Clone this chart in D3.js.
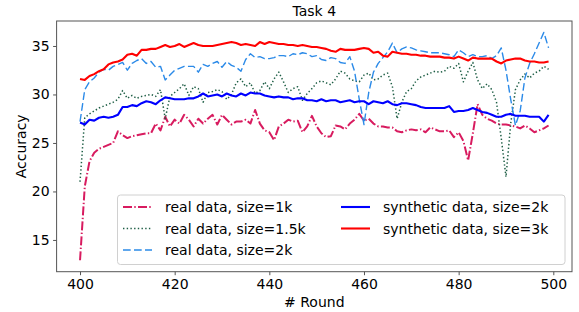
<!DOCTYPE html>
<html><head><meta charset="utf-8">
<script src="https://cdn.jsdelivr.net/npm/d3@7"></script>
<style>body{margin:0;background:#fff}svg text{font-family:"DejaVu Sans",sans-serif}</style>
</head><body><svg id="c" width="579" height="312"></svg>
<script>
const rounds = d3.range(400, 500);
const xTicks = [400, 420, 440, 460, 480, 500];
const yTicks = [15, 20, 25, 30, 35];
const real1k = [12.9,20.5,23.1,24.0,24.4,24.6,24.8,25.0,26.2,25.8,
25.5,25.7,25.8,25.9,26.0,26.0,27.0,26.3,27.7,26.7,
27.4,27.0,27.9,27.4,26.7,27.5,27.0,27.5,27.9,26.9,
27.9,27.4,26.9,27.2,27.2,27.4,27.0,28.4,27.0,26.3,
26.1,25.3,26.7,27.0,27.4,27.2,27.3,26.1,26.7,27.8,
26.7,26.0,25.6,25.7,26.8,26.7,26.4,27.0,27.4,28.0,
27.3,27.5,27.0,26.7,26.7,26.6,26.6,26.2,26.1,26.3,
26.4,26.3,26.4,26.1,26.6,26.4,26.2,26.2,26.3,25.6,
26.1,25.2,23.2,26.0,29.0,27.9,27.5,27.3,27.0,26.9,
26.9,26.8,26.7,26.5,26.8,26.5,26.1,26.3,26.5,26.8];
const real15k = [21.0,27.6,28.0,28.3,28.6,28.8,29.0,29.2,29.5,30.4,
29.6,29.9,29.6,29.8,29.9,30.0,29.8,30.5,27.5,29.8,
30.2,30.6,31.1,29.9,30.8,30.6,29.2,30.2,30.3,30.5,
30.3,29.5,30.0,31.2,31.6,30.8,31.2,30.1,30.4,31.3,
30.6,31.6,32.3,31.3,30.2,30.6,30.8,29.4,30.1,30.6,
31.2,31.4,31.2,31.0,31.6,32.4,32.2,31.6,31.4,31.3,
32.0,32.2,31.5,31.6,32.0,32.2,30.8,27.5,29.2,30.3,
30.6,31.4,31.8,32.0,32.2,32.4,32.3,32.4,32.9,32.7,
33.2,31.3,32.4,33.3,31.5,30.6,31.1,30.5,29.2,25.5,
21.5,27.0,30.5,31.5,32.1,31.7,32.2,32.4,32.9,32.6];
const real2k = [27.2,30.5,31.3,31.7,32.3,32.6,32.5,32.9,33.1,33.3,
32.5,33.2,33.5,33.7,33.2,33.4,32.8,32.9,31.5,32.0,
32.5,32.7,32.9,32.9,32.9,32.3,33.1,32.9,33.2,33.4,
32.8,33.4,33.0,32.8,32.4,33.6,34.2,33.8,33.9,33.7,
33.7,33.8,34.0,34.0,33.9,34.2,34.1,34.3,34.2,33.9,
34.0,33.6,33.5,33.8,33.7,33.3,33.2,33.9,32.4,29.5,
26.9,30.2,32.3,33.2,33.8,34.4,35.3,34.3,34.7,34.9,
34.8,34.6,34.5,34.4,34.3,34.3,34.3,34.2,34.1,33.9,
34.6,34.3,33.9,34.1,33.9,33.9,34.0,33.7,34.0,34.8,
32.5,29.5,26.8,28.3,31.7,33.2,34.2,35.3,36.4,34.8];
const syn2k = [27.1,26.9,27.4,27.3,27.6,27.7,27.6,27.7,27.9,28.7,
28.7,28.9,28.8,29.1,29.3,29.2,29.0,29.4,29.7,29.6,
29.5,29.5,29.5,29.6,29.6,29.8,30.1,29.8,29.9,30.0,
29.8,30.1,29.9,29.8,30.1,29.9,30.2,30.1,30.1,29.9,
29.8,29.7,29.8,29.7,29.7,29.5,29.6,29.6,29.4,29.4,
29.3,29.5,29.3,29.4,29.4,29.2,29.3,29.4,29.2,29.3,
29.3,29.0,29.3,29.2,29.1,29.3,29.0,28.9,29.1,29.1,
29.0,28.9,28.7,28.6,28.6,28.6,28.6,28.6,28.8,28.2,
28.3,28.3,28.4,28.6,28.4,28.2,28.1,27.9,27.7,27.7,
27.9,28.0,27.8,27.8,27.8,27.7,27.7,27.7,27.2,27.9];
const syn3k = [31.6,31.5,31.9,32.1,32.4,32.6,33.1,33.3,33.4,33.6,
34.1,34.2,34.0,34.6,34.6,34.7,34.7,34.9,35.1,34.9,
35.0,35.2,34.9,35.1,35.3,35.1,35.0,35.0,35.0,35.1,
35.2,35.3,35.4,35.3,35.1,35.2,35.1,35.0,35.4,35.2,
35.4,35.3,35.2,35.2,35.1,35.1,35.0,35.1,35.0,34.9,
34.9,34.8,34.7,34.5,34.4,34.7,34.6,34.6,34.6,34.7,
34.8,34.7,34.3,34.4,34.0,33.9,34.4,34.3,34.2,34.2,
34.1,34.1,34.0,34.0,33.9,33.9,33.9,33.8,33.8,33.7,
33.9,33.7,33.5,33.8,33.7,33.7,33.7,33.7,33.4,33.2,
33.5,33.6,33.7,33.7,33.5,33.4,33.4,33.3,33.3,33.4];
const seriesNames = ["real data, size=1k","real data, size=1.5k","real data, size=2k","synthetic data, size=2k","synthetic data, size=3k"];

const series = [
  {name: seriesNames[0], values: real1k, color: "#d81b5f", width: 2, dash: "9,2.3,1.4,2.3"},
  {name: seriesNames[1], values: real15k, color: "#1e5e45", width: 1.5, dash: "1.4,2.3"},
  {name: seriesNames[2], values: real2k, color: "#2b8ae8", width: 1.4, dash: "7.7,3.3"},
  {name: seriesNames[3], values: syn2k, color: "#0000ff", width: 2.1, dash: null},
  {name: seriesNames[4], values: syn3k, color: "#ff0000", width: 2.1, dash: null}
];

const svg = d3.select("#c");
const L = 56.6, R = 572, T = 21, B = 271.7;
const allV = series.flatMap(s => s.values);
const vmin = d3.min(allV), vmax = d3.max(allV), pad = (vmax - vmin) * 0.05;
const xpad = (rounds[rounds.length-1] - rounds[0]) * 0.05;
const x = d3.scaleLinear().domain([rounds[0] - xpad, rounds[rounds.length-1] + xpad]).range([L, R]);
const y = d3.scaleLinear().domain([vmin - pad, vmax + pad]).range([B, T]);

svg.append("defs").append("clipPath").attr("id","clip").append("rect")
  .attr("x", L).attr("y", T).attr("width", R - L).attr("height", B - T);

const line = d3.line().x((d,i) => x(rounds[i])).y(d => y(d));
const g = svg.append("g").attr("clip-path","url(#clip)");
series.forEach(s => {
  g.append("path").attr("d", line(s.values)).attr("fill","none")
   .attr("stroke", s.color).attr("stroke-width", s.width)
   .attr("stroke-dasharray", s.dash).attr("stroke-linejoin","round");
});

const frame = "#555";
const xAxis = svg.append("g").attr("transform", `translate(0,${B})`)
  .call(d3.axisBottom(x).tickValues(xTicks).tickSize(3.5).tickPadding(3.5).tickFormat(d3.format("d")));
const yAxis = svg.append("g").attr("transform", `translate(${L},0)`)
  .call(d3.axisLeft(y).tickValues(yTicks).tickSize(3.5).tickPadding(3.5).tickFormat(d3.format("d")));
[xAxis, yAxis].forEach(a => {
  a.select(".domain").remove();
  a.selectAll("line").attr("stroke", frame).attr("stroke-width", 1);
  a.selectAll("text").attr("font-size", 14).attr("fill", "#000").style("font-family","DejaVu Sans");
});
svg.append("rect").attr("x", L).attr("y", T).attr("width", R - L).attr("height", B - T)
  .attr("fill","none").attr("stroke", frame).attr("stroke-width", 1);

svg.append("text").attr("x", (L+R)/2).attr("y", 15.5).attr("text-anchor","middle")
  .attr("font-size", 14).text("Task 4");
svg.append("text").attr("x", (L+R)/2).attr("y", 307).attr("text-anchor","middle")
  .attr("font-size", 14).text("# Round");
svg.append("text").attr("transform", `translate(26,${(T+B)/2}) rotate(-90)`).attr("text-anchor","middle")
  .attr("font-size", 14).text("Accuracy");

// legend
const lg = svg.append("g");
lg.append("rect").attr("x", 117.5).attr("y", 195).attr("width", 447.5).attr("height", 69.5)
  .attr("rx", 3).attr("fill","#fff").attr("fill-opacity",0.8).attr("stroke","#d0d0d0").attr("stroke-width",1);
const cols = [{x: 123, rows: [0,1,2]}, {x: 341, rows: [3,4]}];
const rowY = [207, 228.5, 250];
cols.forEach(c => {
  c.rows.forEach((si, j) => {
    const s = series[si];
    lg.append("line").attr("x1", c.x).attr("x2", c.x + 29).attr("y1", rowY[j]).attr("y2", rowY[j])
      .attr("stroke", s.color).attr("stroke-width", s.width).attr("stroke-dasharray", s.dash);
    lg.append("text").attr("x", c.x + 42).attr("y", rowY[j]).attr("dy","0.36em")
      .attr("font-size", 14).text(s.name);
  });
});
</script></body></html>
